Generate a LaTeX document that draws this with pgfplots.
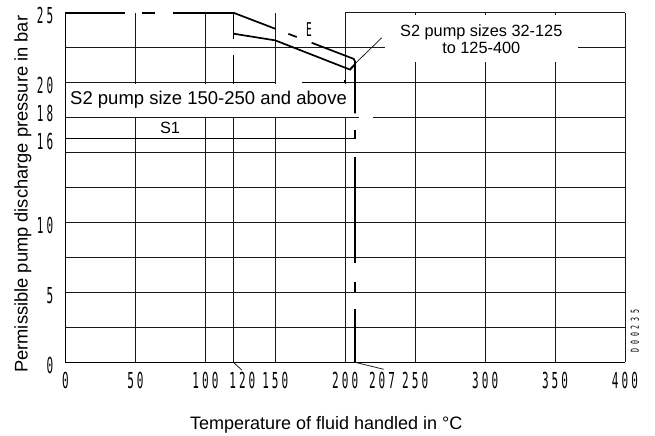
\documentclass[border=0pt]{standalone}
\usepackage{fontspec}
\setmainfont{Liberation Sans}
\newfontfamily\din[FakeStretch=0.5,LetterSpace=14]{DejaVu Sans Mono}
\newfontfamily\dinsmall[FakeStretch=0.6,LetterSpace=35]{DejaVu Sans Mono}
\usepackage{pgfplots}
\pgfplotsset{compat=1.18}
\begin{document}
\begin{tikzpicture}
\begin{axis}[
  scale only axis,
  width=559.5bp, height=349.6bp,
  xmin=0, xmax=400, ymin=0, ymax=25,
  clip=false,
  axis line style={draw=none},
  major tick length=0pt,
  xtick={0,50,100,120,150,200,207,250,300,350,400},
  xticklabels={0,50,100,\hspace*{18bp}120,150,200,\hspace*{54bp}207,250,300,350,400},
  ytick={0,5,10,16,18,20,25},
  yticklabels={0,5,10,16,18,20,25},
  xticklabel style={font=\din\fontsize{22bp}{23bp}\selectfont, anchor=center, yshift=-17.7bp, inner sep=0pt},
  yticklabel style={font=\din\fontsize{22bp}{23bp}\selectfont, anchor=east, xshift=-12bp, yshift=-3bp, inner sep=0pt},
  thinl/.style={black!90, line width=0.75bp, no marks},
  thickl/.style={black, line width=1.7bp, no marks},
]
% ---------- thin grid ----------
\addplot[thinl] coordinates {(0,2.5)(400,2.5)};
\addplot[thinl] coordinates {(0,5)(400,5)};
\addplot[thinl] coordinates {(0,7.5)(400,7.5)};
\addplot[thinl] coordinates {(0,10)(400,10)};
\addplot[thinl] coordinates {(0,12.5)(400,12.5)};
\addplot[thinl] coordinates {(0,15)(400,15)};
\addplot[thinl] coordinates {(0,17.5)(210,17.5)};
\addplot[thinl] coordinates {(220,17.5)(400,17.5)};
\addplot[thinl] coordinates {(0,20)(120,20)};
\addplot[thinl] coordinates {(200,20)(400,20)};
\addplot[thinl] coordinates {(0,22.5)(400,22.5)};
\addplot[thinl] coordinates {(200,25)(400,25)};
\addplot[thinl] coordinates {(50,0)(50,25)};
\addplot[thinl] coordinates {(100,0)(100,25)};
\addplot[thinl] coordinates {(120,0)(120,20)};
\addplot[thinl] coordinates {(150,0)(150,25)};
\addplot[thinl] coordinates {(200,0)(200,25)};
\addplot[thinl] coordinates {(250,0)(250,25)};
\addplot[thinl] coordinates {(300,0)(300,25)};
\addplot[thinl] coordinates {(350,0)(350,25)};
\addplot[thinl] coordinates {(400,0)(400,25)};
\addplot[black, line width=1.2bp, no marks] coordinates {(0,0)(400,0)};
% leaders
\addplot[thinl] coordinates {(120,0)(126,-0.55)};
\addplot[thinl] coordinates {(207,0)(227.5,-0.5)};
\addplot[thinl] coordinates {(203.4,21.0)(226,23.2)};
% ---------- white label boxes ----------
\node[fill=white, inner sep=0pt, minimum width=284bp, minimum height=33bp,
      font=\fontsize{18.5bp}{20bp}\selectfont] at (axis cs:102.25,18.75) {S2 pump size 150-250 and above};
\node[fill=white, inner sep=0pt, minimum width=193bp, minimum height=47bp, align=center,
      font=\fontsize{16.3bp}{17bp}\selectfont] at (axis cs:297.25,23.12) {S2 pump sizes 32-125\\to 125-400};
% ---------- thick lines ----------
\addplot[thickl] coordinates {(0,0)(0,25)(42.5,25)};
\addplot[thickl] coordinates {(54.5,25)(64,25)};
\addplot[thickl] coordinates {(77,25)(120,25)(120,23.14)};
\addplot[thickl] coordinates {(120,21.96)(120,20)(150,20)};
\addplot[thickl] coordinates {(168.8,20)(200,20)(200,20.2)};
\addplot[thickl] coordinates {(0,16)(207,16)(207,16.6)};
\addplot[thickl] coordinates {(207,14.7)(207,7.1)};
\addplot[thickl] coordinates {(207,5.74)(207,5.02)};
\addplot[thickl] coordinates {(207,3.8)(207,0)};
% upper curve E
\addplot[thickl] coordinates {(120,25)(150,23.85)};
\addplot[thickl] coordinates {(159.3,23.49)(165.3,23.26)};
\addplot[thickl] coordinates {(176,22.85)(206,21.70)(207,21.5)(207,17.8)};
% lower curve
\addplot[thickl] coordinates {(120,23.5)(150,23.02)(203.4,20.93)(207,21.3)};
% ---------- text ----------
\node[inner sep=0pt, font=\fontsize{16.3bp}{17bp}\selectfont] at (axis cs:74.7,16.77) {S1};
\node[inner sep=0pt, font=\din\fontsize{19bp}{20bp}\selectfont] at (axis cs:174,23.8) {E};
\node[inner sep=0pt, rotate=90, font=\dinsmall\fontsize{11bp}{12bp}\selectfont] at (axis cs:407,2.24) {D00235};
\node[inner sep=0pt, font=\fontsize{18bp}{20bp}\selectfont] at (axis cs:186.4,-4.48) {Temperature of fluid handled in °C};
\node[inner sep=0pt, rotate=90, font=\fontsize{18.3bp}{20bp}\selectfont] at ([xshift=-42.5bp]axis cs:0,12.02) {Permissible pump discharge pressure in bar};
\coordinate (O) at (axis cs:0,0);
\coordinate (T) at (axis cs:400,25);
\end{axis}
\pgfresetboundingbox
\path[use as bounding box] ([xshift=-65.5bp,yshift=-73.7bp]O) rectangle ([xshift=30bp,yshift=12.7bp]T);
\end{tikzpicture}
\end{document}
